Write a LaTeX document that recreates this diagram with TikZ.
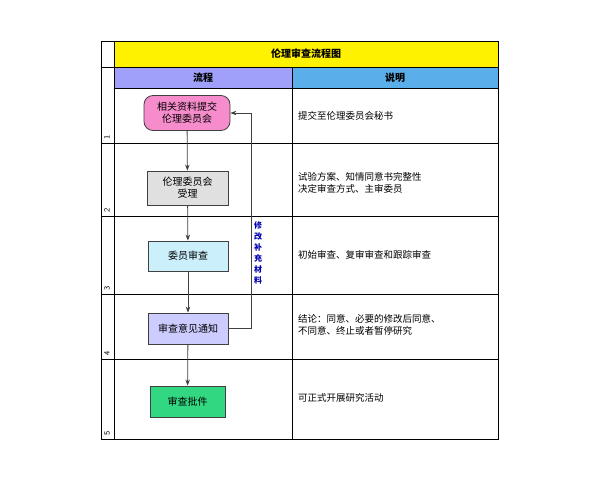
\documentclass[tikz,border=0pt]{standalone}
\usepackage{fontspec}
\newfontfamily\cjk{Noto Sans CJK SC}
\usetikzlibrary{arrows.meta}
\definecolor{headflow}{RGB}{160,160,250}
\definecolor{headnote}{RGB}{90,175,235}
\definecolor{okgreen}{RGB}{50,215,130}
\tikzset{
  step box/.style={draw=black!75,thick,minimum height=31pt,font=\cjk\fontsize{10}{12}\selectfont,align=center,inner sep=1pt},
  note/.style={anchor=west,font=\cjk\fontsize{9.5}{12}\selectfont,align=left,inner sep=0pt},
  flow/.style={-{Stealth[length=6pt]},thick,black!75},
}
\begin{document}
\begin{tikzpicture}[x=1pt,y=-1pt]
\useasboundingbox (0,0) rectangle (600,480);
\fill[yellow] (114,41) rectangle (498,67);
\fill[headflow] (114,67) rectangle (292,88);
\fill[headnote] (292,67) rectangle (498,88);
\draw[thick]
      (101,41) rectangle (498,439)
      (114,41) -- (114,439)
      (292,67) -- (292,439)
      (101,67) -- (498,67)
      (114,88) -- (498,88);
\foreach \y in {143,216,294,359}
  \draw[thick] (101,\y) -- (498,\y);
\path[font=\cjk\fontsize{10}{12}\selectfont\bfseries]
      (306,54) node (title) {伦理审查流程图}
      (203,77.5) node (hflow) {流程}
      (395,77.5) node (hnote) {说明};
\foreach \n/\y in {1/143,2/216,3/294,4/359,5/439}
  \node[rotate=90,anchor=west,font=\sffamily\footnotesize,inner sep=1pt] (num\n) at (107,\y-2) {\n};
\node[step box,fill=magenta!45,rounded corners=9pt,minimum width=86pt,minimum height=35pt] (submit) at (187,113) {相关资料提交\\伦理委员会};
\node[step box,fill=black!12,minimum width=81pt,minimum height=34pt] (accept) at (187.5,188) {伦理委员会\\受理};
\node[step box,fill=cyan!20,minimum width=80pt,minimum height=30pt] (review) at (188,256) {委员审查};
\node[step box,fill=blue!20,minimum width=80pt] (notice) at (188,328.5) {审查意见通知};
\node[step box,fill=okgreen,minimum width=75pt] (approve) at (187.5,401.5) {审查批件};
\draw[flow] (submit) -- (accept);
\draw[flow] (accept) -- (review);
\draw[flow] (review) -- (notice);
\draw[flow] (notice) -- (approve);
\draw[flow] (notice.east) -| (251,113) -- (submit.east);
\node[font=\cjk\fontsize{8}{11}\selectfont\bfseries,text=blue!70!black,align=center,inner sep=0pt] (revise) at (258,253) {修\\改\\补\\充\\材\\料};
\node[note] (n1) at (298,116) {提交至伦理委员会秘书};
\node[note] (n2) at (298,183) {试验方案、知情同意书完整性\\决定审查方式、主审委员};
\node[note] (n3) at (298,255) {初始审查、复审审查和跟踪审查};
\node[note] (n4) at (298,325) {结论：同意、必要的修改后同意、\\不同意、终止或者暂停研究};
\node[note] (n5) at (298,398) {可正式开展研究活动};
\end{tikzpicture}
\end{document}
